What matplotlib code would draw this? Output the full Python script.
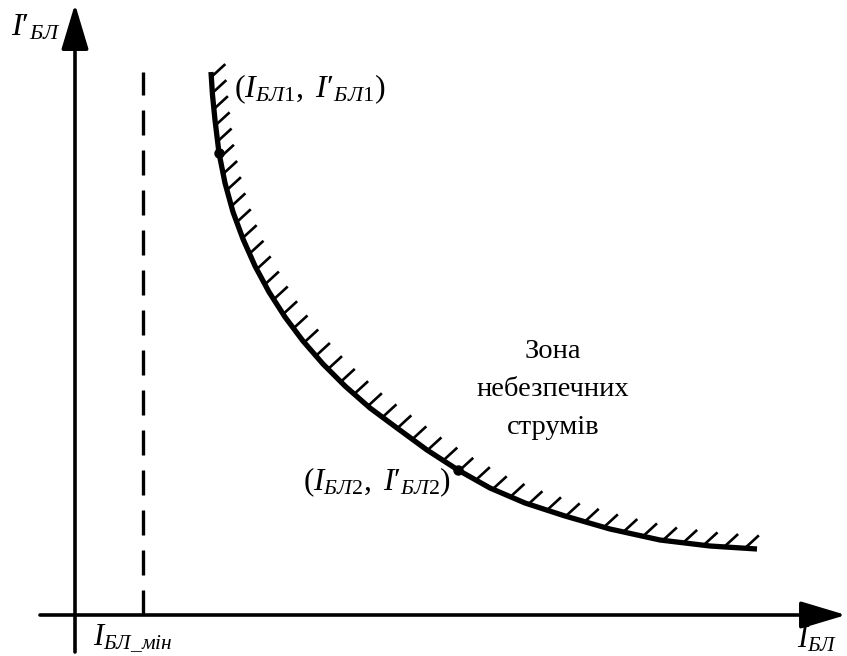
import matplotlib
matplotlib.use("Agg")
import matplotlib.pyplot as plt
import numpy as np

plt.rcParams["font.family"] = ["Liberation Serif", "DejaVu Serif"]
plt.rcParams["mathtext.fontset"] = "custom"
plt.rcParams["mathtext.rm"] = "Liberation Serif"
plt.rcParams["mathtext.it"] = "Liberation Serif:italic"

# boundary of the dangerous-current zone (I_BL, I'_BL), origin at the axes crossing
curve_x = [136, 137.5, 140, 144, 150, 158, 168, 180, 194, 210, 228, 248, 270,
           295, 322, 352, 383, 415, 450, 490, 535, 585, 635, 682]
curve_y = [543, 520, 495, 462, 432, 403, 376, 349, 323, 298, 274, 251, 229,
           207, 187, 165, 145, 127, 112, 99, 86, 75, 69, 66]

# marked points on the boundary
point_x = [144, 383]
point_y = [462, 145]
point_labels = [r"$(I_{БЛ1},\ I\mathrm{′}_{БЛ1})$", r"$(I_{БЛ2},\ I\mathrm{′}_{БЛ2})$"]

# minimal current level
i_min = 68

zone_text = "Зона\nнебезпечних\nструмів"

fig = plt.figure(figsize=(8.47, 6.56), dpi=100)
ax = fig.add_axes([0, 0, 1, 1])
ax.set_xlim(-75, 772)
ax.set_ylim(-41, 615)
ax.axis("off")

# axes with arrow heads
arrow = dict(arrowstyle="-|>,head_length=1.4,head_width=0.42", mutation_scale=20,
             lw=2.6, color="black", shrinkA=0, shrinkB=0)
ax.annotate("", xy=(0, 611), xytext=(0, -37), arrowprops=arrow)
ax.annotate("", xy=(771, 0), xytext=(-35, 0), arrowprops=arrow)

# I_BL_min level
ax.plot([i_min, i_min], [0, 543], color="black", lw=2.4, dashes=(7.5, 4.5))

# boundary curve
cx = np.array(curve_x, dtype=float)
cy = np.array(curve_y, dtype=float)
ax.plot(cx, cy, color="black", lw=3.8, solid_capstyle="butt",
        solid_joinstyle="round", zorder=3)

# hatching on the dangerous side of the boundary
seg = np.hypot(np.diff(cx), np.diff(cy))
arc = np.concatenate([[0], np.cumsum(seg)])
pos = [5.0]
while True:
    step = 16 + 5 * pos[-1] / arc[-1]
    if pos[-1] + step > arc[-1] - 9:
        break
    pos.append(pos[-1] + step)
hx = np.interp(pos, arc, cx)
hy = np.interp(pos, arc, cy)
d = np.array([1.0, 0.92])
d = d / np.hypot(*d) * 19
for x0, y0 in zip(hx, hy):
    ax.plot([x0, x0 + d[0]], [y0, y0 + d[1]], color="black", lw=1.9,
            solid_capstyle="butt", zorder=2)

ax.plot(point_x, point_y, "o", color="black", ms=6.5, zorder=4)

# labels
ax.text(159, 518, point_labels[0], fontsize=23, ha="left", va="baseline")
ax.text(376, 125, point_labels[1], fontsize=22.5, ha="right", va="baseline")
ax.text(478, 276, zone_text, fontsize=20.5, ha="center", va="top",
        multialignment="center", linespacing=1.68)

ax.text(-64, 580, r"$I\mathrm{′}_{БЛ}$", fontsize=23, ha="left", va="baseline")
ax.text(722, -33, r"$I_{БЛ}$", fontsize=22, ha="left", va="baseline")
ax.text(18, -30, r"$I_{БЛ\_мін}$", fontsize=22, ha="left", va="baseline")

fig.savefig("out.png", dpi=100)
